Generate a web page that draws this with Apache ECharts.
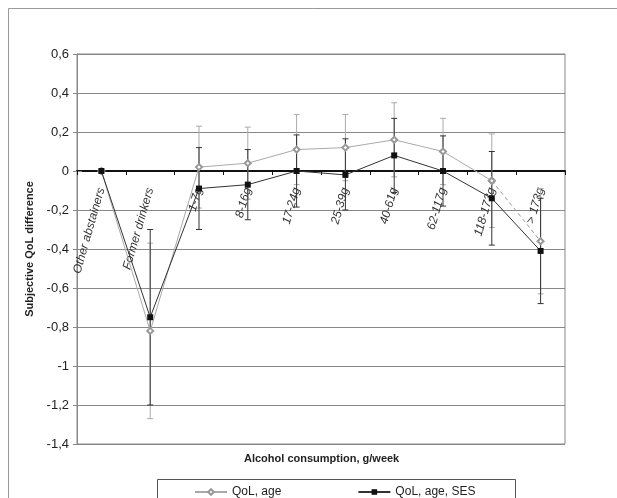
<!DOCTYPE html>
<html>
<head>
<meta charset="utf-8">
<script src="https://cdn.jsdelivr.net/npm/echarts@6/dist/echarts.min.js"></script>
<style>html,body{margin:0;padding:0;background:#fff}#c{width:617px;height:498px}</style>
</head>
<body>
<div id="c"></div>
<script>
const categories = ['Other abstainers','Former drinkers','1-7g','8-16g','17-24g','25-39g','40-61g','62-117g','118-173g','> 173g'];
const ageValues = [0, -0.82, 0.02, 0.04, 0.11, 0.12, 0.16, 0.10, -0.05, -0.36];
const ageLower  = [null, -1.27, -0.19, -0.145, -0.07, -0.05, -0.03, -0.07, -0.29, -0.63];
const ageUpper  = [null, -0.37, 0.23, 0.225, 0.29, 0.29, 0.35, 0.27, 0.19, -0.09];
const sesValues = [0, -0.75, -0.09, -0.07, 0, -0.02, 0.08, 0, -0.14, -0.41];
const sesLower  = [null, -1.20, -0.30, -0.25, -0.185, -0.20, -0.11, -0.18, -0.38, -0.68];
const sesUpper  = [null, -0.30, 0.12, 0.11, 0.185, 0.165, 0.27, 0.18, 0.10, -0.14];
const yTicks = { min: -1.4, max: 0.6, interval: 0.2 };

const FONT = '"Liberation Sans", Arial, sans-serif';
const GRID = { left: 77, right: 52, top: 54, bottom: 54 };
const H = 498;
// offset that places the category axis on the zero line
const plotH = H - GRID.top - GRID.bottom;
const zeroFromBottom = plotH * (0 - yTicks.min) / (yTicks.max - yTicks.min);

function errData(lo, hi) {
  const out = [];
  for (let i = 0; i < lo.length; i++) if (lo[i] != null && hi[i] != null) out.push([i, lo[i], hi[i]]);
  return out;
}
function errRender(color) {
  return function (params, api) {
    const x = api.value(0);
    const top = api.coord([x, api.value(2)]);
    const bot = api.coord([x, api.value(1)]);
    const w = 3;
    const st = { stroke: color, lineWidth: 1 };
    return {
      type: 'group',
      children: [
        { type: 'line', shape: { x1: top[0], y1: top[1], x2: bot[0], y2: bot[1] }, style: st },
        { type: 'line', shape: { x1: top[0] - w, y1: top[1], x2: top[0] + w, y2: top[1] }, style: st },
        { type: 'line', shape: { x1: bot[0] - w, y1: bot[1], x2: bot[0] + w, y2: bot[1] }, style: st }
      ]
    };
  };
}
const n = categories.length;
const ageMain = ageValues.map((v, i) => (i < n - 1 ? v : null));
const ageDash = ageValues.map((v, i) => (i >= n - 2 ? v : null));

const chart = echarts.init(document.getElementById('c'), null, { renderer: 'canvas' });
chart.setOption({
  animation: false,
  backgroundColor: '#fff',
  textStyle: { fontFamily: FONT },
  grid: Object.assign({ show: true, borderColor: '#888', borderWidth: 1, backgroundColor: 'transparent' }, GRID),
  xAxis: {
    type: 'category',
    data: categories,
    boundaryGap: true,
    position: 'bottom',
    offset: -zeroFromBottom,
    axisLine: { onZero: false, lineStyle: { color: '#111', width: 2 } },
    axisTick: { show: true, length: 4, lineStyle: { color: '#111', width: 1 } },
    axisLabel: { rotate: 74, interval: 0, margin: 17, fontSize: 12, fontStyle: 'italic', color: '#333', fontFamily: FONT },
    splitLine: { show: false }
  },
  yAxis: [{
    type: 'value',
    min: yTicks.min, max: yTicks.max, interval: yTicks.interval,
    name: 'Subjective QoL difference',
    nameLocation: 'middle',
    nameGap: 42,
    nameTextStyle: { fontSize: 11, fontWeight: 'bold', color: '#222', fontFamily: FONT },
    axisLine: { show: true, lineStyle: { color: '#888' } },
    axisTick: { show: true, length: 4, lineStyle: { color: '#888' } },
    axisLabel: {
      fontSize: 13, color: '#222', margin: 8, fontFamily: FONT,
      formatter: function (v) {
        const r = Math.round(v * 10) / 10;
        if (Number.isInteger(r)) return String(r);
        return r.toFixed(1).replace('.', ',');
      }
    },
    splitLine: { show: true, lineStyle: { color: '#888', width: 1 } }
  }, {
    type: 'value', position: 'left',
    min: yTicks.min, max: yTicks.max, interval: yTicks.interval,
    axisLine: { show: false },
    axisTick: { show: true, inside: true, length: 5, lineStyle: { color: '#888' } },
    axisLabel: { show: false },
    splitLine: { show: false }
  }],
  legend: {
    left: 189, top: 481,
    itemGap: 76, itemWidth: 32, itemHeight: 7,
    textStyle: { fontSize: 12, color: '#222', fontFamily: FONT },
    data: ['QoL, age', 'QoL, age, SES']
  },
  graphic: [
    { type: 'rect', silent: true, shape: { x: 8.5, y: 8.5, width: 640, height: 520 }, style: { fill: 'none', stroke: '#999', lineWidth: 1 }, z: -10 },
    { type: 'rect', silent: true, shape: { x: 157.5, y: 479.5, width: 358, height: 40 }, style: { fill: 'none', stroke: '#555', lineWidth: 1 } },
    { type: 'text', left: 244, top: 453, style: { text: 'Alcohol consumption, g/week', font: 'bold 11px ' + FONT, fill: '#222' } }
  ],
  series: [
    { name: 'ageErr', type: 'custom', renderItem: errRender('#aaa'), data: errData(ageLower, ageUpper), z: 1, encode: { x: 0, y: [1, 2] } },
    { name: 'sesErr', type: 'custom', renderItem: errRender('#333'), data: errData(sesLower, sesUpper), z: 1, encode: { x: 0, y: [1, 2] } },
    { name: 'QoL, age', type: 'line', data: ageMain, symbol: 'emptyDiamond', symbolSize: 6, color: '#999',
      lineStyle: { color: '#aaa', width: 1 }, itemStyle: { color: '#999', borderColor: '#999', borderWidth: 1 }, z: 3 },
    { name: 'ageDash', type: 'line', data: ageDash, symbol: 'emptyDiamond', symbolSize: 6, color: '#999',
      lineStyle: { color: '#999', width: 1, type: [4, 3] }, itemStyle: { color: '#999', borderColor: '#999' }, z: 3 },
    { name: 'QoL, age, SES', type: 'line', data: sesValues, symbol: 'rect', symbolSize: 6, color: '#111',
      lineStyle: { color: '#333', width: 1 }, itemStyle: { color: '#111' }, z: 4 }
  ]
});
</script>
</body>
</html>
